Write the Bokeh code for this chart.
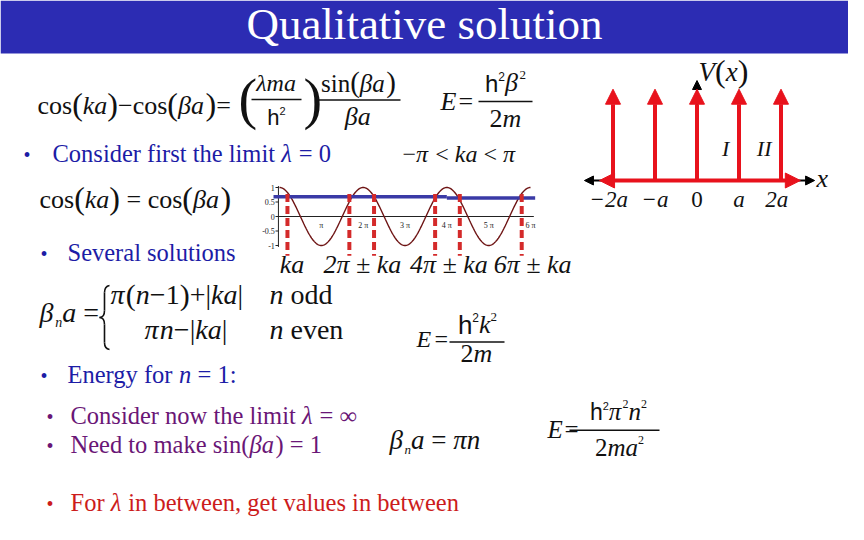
import numpy as np
from bokeh.plotting import figure
from bokeh.models import ColumnDataSource, Range1d, Arrow, NormalHead
from bokeh.embed import file_html
from bokeh.resources import INLINE

# ---------------- data ----------------
# inset: cos(beta a) plotted over 0 .. 6 pi (the curve is the cosine itself)
inset_beta_a = np.linspace(0.0, 6 * np.pi, 361)
inset_cos = np.cos(inset_beta_a)
ka_level_left = 0.68          # cos(ka) horizontal line, up to 4 pi
ka_level_right = 0.64         # cos(ka) horizontal line, after 4 pi
crossing_pi = [0.19, 1.67, 2.26, 3.72, 4.31, 5.79]   # intersections (units of pi)
inset_yticks = [1.0, 0.5, 0.0, -0.5, -1.0]
inset_ytick_labels = ["1", "0.5", "0", "-0.5", "-1"]
inset_xticks_pi = [1, 2, 3, 4, 5, 6]
inset_xtick_labels = ["π", "2 π", "3 π", "4 π", "5 π", "6 π"]
solution_labels = ["ka", "2π ± ka", "4π ± ka", "6π ± ka"]
solution_label_pi = [0.30, 1.98, 4.05, 6.05]

# Kronig-Penney potential: delta spikes at multiples of a
site_positions = [-2, -1, 0, 1, 2]
site_labels = ["−2a", "−a", "0", "a", "2a"]
site_label_pos = [-2.1, -1.0, 0.0, 1.0, 1.9]
region_labels = ["I", "II"]
region_positions = [0.68, 1.6]

# ---------------- styles ----------------
SERIF = "Liberation Serif"
SANS = "Liberation Sans"
BLACK = "#111111"
HEADER = "#2c2cb3"
BLUE = "#1c1ca6"
PURPLE = "#6a1676"
RED = "#cc1c1c"
ARROW_RED = "#e8121c"
MID = 0.34   # alphabetic baseline -> 'middle' anchor offset (in em)

REG = {' ': 250, '(': 333, ')': 333, '+': 564, ',': 250, '-': 333, '.': 250, ':': 278,
       '<': 564, '=': 564, '|': 200, '−': 564, '±': 564, 'π': 549, 'λ': 549, 'β': 549,
       '∞': 713, '•': 350,
       'A': 722, 'B': 667, 'C': 667, 'D': 722, 'E': 611, 'F': 556, 'G': 722, 'H': 722,
       'I': 333, 'N': 722, 'Q': 722, 'S': 556, 'V': 722,
       'a': 444, 'b': 500, 'c': 444, 'd': 500, 'e': 444, 'f': 333, 'g': 500, 'h': 500,
       'i': 278, 'j': 278, 'k': 500, 'l': 278, 'm': 778, 'n': 500, 'o': 500, 'p': 500,
       'q': 500, 'r': 333, 's': 389, 't': 278, 'u': 500, 'v': 500, 'w': 722, 'x': 500,
       'y': 500, 'z': 444}
for d in "0123456789":
    REG[d] = 500
IT = dict(REG)
IT.update({'a': 500, 'k': 444, 'm': 722, 'r': 389, 'v': 444, 'w': 667, 'x': 444,
           'y': 444, 'z': 389, 'E': 611, 'V': 611, 'π': 549, 'λ': 470, 'β': 560})
SANSW = {'h': 556, '2': 556}

TX = dict(x=[], y=[], text=[], size=[], style=[], font=[], color=[], align=[])


def tx(x, y, s, size, style="normal", font=SERIF, color=BLACK, align="left"):
    TX["x"].append(x)
    TX["y"].append(y - MID * size)
    TX["text"].append(s)
    TX["size"].append(f"{size}px")
    TX["style"].append(style)
    TX["font"].append(font)
    TX["color"].append(color)
    TX["align"].append(align)


def width(s, size, style, font):
    table = SANSW if font == SANS else (IT if style == "italic" else REG)
    return sum(table.get(c, 500) for c in s) / 1000.0 * size


def run(x, y, pieces, color=BLACK, align="left"):
    items = []
    for pc in pieces:
        s, size = pc[0], pc[1]
        style = pc[2] if len(pc) > 2 else "normal"
        font = pc[3] if len(pc) > 3 else SERIF
        dy = pc[4] if len(pc) > 4 else 0
        lead = (len(s) - len(s.lstrip(" "))) * 0.25 * size
        trail = (len(s) - len(s.rstrip(" "))) * 0.25 * size
        core = s.strip(" ")
        items.append((core, size, style, font, dy, lead, width(core, size, style, font),
                      trail))
    total = sum(it[5] + it[6] + it[7] for it in items)
    if align == "center":
        x -= total / 2.0
    for core, size, style, font, dy, lead, w, trail in items:
        x += lead
        tx(x, y + dy, core, size, style, font, color)
        x += w + trail
    return x


# ---------------- figure (coordinates = reference pixels, y down) ----------------
p = figure(width=848, height=524, x_range=Range1d(8, 856), y_range=Range1d(532, 8),
           output_backend="svg", toolbar_location=None, x_axis_type=None,
           y_axis_type=None, min_border=0)
p.outline_line_color = None
p.background_fill_color = "white"
p.border_fill_color = "white"
p.title.visible = False

# inset ranges: beta*a -> px, cos -> px
kx = 251.0 / (6 * np.pi)
ky = 29.0
p.extra_x_ranges["ix"] = Range1d((8 - 287) / kx, (856 - 287) / kx)
p.extra_y_ranges["iy"] = Range1d((224 - 532) / ky, (224 - 8) / ky)
# potential ranges: x in units of a, V in units of spike height
ka_px = 42.0
kv = 91.3
p.extra_x_ranges["px"] = Range1d((8 - 704.5) / ka_px, (856 - 704.5) / ka_px)
p.extra_y_ranges["py"] = Range1d((188 - 532) / kv, (188 - 8) / kv)

# header bar
p.quad(left=[8], right=[856], top=[8], bottom=[61], color=HEADER, line_color=None)
tx(432, 47, "Qualitative solution", 45, color="white", align="center")

# ---------- equation 1 ----------
run(45, 122, [("cos", 26), ("(", 32), ("ka", 26, "italic"), (")", 32), ("−", 26),
              ("cos", 26), ("(", 32), ("βa", 26, "italic"), (")", 32), ("=", 26)])
tx(246, 126, "(", 56)
tx(311, 126, ")", 56)
run(284, 99, [("λma", 24, "italic")], align="center")
run(284, 132, [("h", 22, "normal", SANS), ("2", 11, "normal", SANS, -10)], align="center")
run(366, 99, [("sin", 25), ("(", 29), ("βa", 25, "italic"), (")", 29)], align="center")
run(366, 133, [("βa", 26, "italic")], align="center")
tx(448, 118, "E", 26, "italic")
tx(466, 118, "=", 26)
run(513, 99, [("h", 24, "normal", SANS), ("2", 12, "normal", SANS, -11),
              ("β", 26, "italic"), ("2", 13, "normal", SERIF, -12)], align="center")
run(513, 135, [("2", 26), ("m", 26, "italic")], align="center")
bars = dict(x0=[259, 324, 486], x1=[309, 408, 540], y=[107, 107.5, 109])

# ---------- bullet: lambda = 0 ----------
tx(31, 169, "•", 20, color=BLUE)
run(60, 169, [("Consider first the limit ", 24.5), ("λ", 24.5, "italic"), (" = 0", 24.5)],
    color=BLUE)
run(410, 170, [("−", 24), ("π", 24, "italic"), (" < ", 24), ("ka", 24, "italic"),
               (" < ", 24), ("π", 24, "italic")])
run(47, 216, [("cos", 26), ("(", 32), ("ka", 26, "italic"), (")", 32), (" = ", 26),
              ("cos", 26), ("(", 32), ("βa", 26, "italic"), (")", 32)])
tx(48, 268, "•", 20, color=BLUE)
run(75, 268, [("Several solutions", 24.5)], color=BLUE)

# ---------- cases ----------
run(47, 330, [("β", 28, "italic"), ("n", 14, "italic", SERIF, 5), ("a", 28, "italic"),
              (" =", 28)])
run(118, 312, [("π", 28, "italic"), ("(", 30), ("n", 28, "italic"), ("−1", 28), (")", 30),
               ("+", 28), ("|", 28), ("ka", 28, "italic"), ("|", 28)])
run(277, 312, [("n", 28, "italic"), (" odd", 28)])
run(152, 347, [("π", 28, "italic"), ("n", 28, "italic"), ("−", 28), ("|", 28),
               ("ka", 28, "italic"), ("|", 28)])
run(277, 347, [("n", 28, "italic"), (" even", 28)])
tx(424, 355, "E", 24, "italic")
tx(442, 355, "=", 24)
run(485, 341, [("h", 26, "normal", SANS), ("2", 12, "normal", SANS, -12),
               ("k", 26, "italic"), ("2", 13, "normal", SERIF, -12)], align="center")
run(484, 370, [("2", 26), ("m", 26, "italic")], align="center")
bars["x0"] += [457, 577]
bars["x1"] += [512, 667]
bars["y"] += [349.5, 437.7]

tx(48, 390, "•", 20, color=BLUE)
run(75, 390, [("Energy for ", 24.5), ("n", 24.5, "italic"), (" = 1:", 24.5)], color=BLUE)

# ---------- lambda = infinity ----------
tx(54, 431, "•", 20, color=PURPLE)
run(78, 431, [("Consider now the limit ", 24.5), ("λ", 24.5, "italic"), (" = ∞", 24.5)],
    color=PURPLE)
tx(54, 460, "•", 20, color=PURPLE)
run(78, 460, [("Need to make sin(", 24.5), ("βa", 24.5, "italic"), (") = 1", 24.5)],
    color=PURPLE)
run(397, 457, [("β", 27, "italic"), ("n", 13, "italic", SERIF, 4), ("a", 27, "italic"),
               (" = ", 27), ("πn", 27, "italic")])
tx(555, 445, "E", 25, "italic")
tx(572, 445, "=", 25)
run(626, 427, [("h", 23, "normal", SANS), ("2", 11, "normal", SANS, -10),
               ("π", 25, "italic"), ("2", 12, "normal", SERIF, -11),
               ("n", 25, "italic"), ("2", 12, "normal", SERIF, -11)], align="center")
run(627, 463, [("2", 25), ("ma", 25, "italic"), ("2", 12, "normal", SERIF, -11)],
    align="center")

tx(54, 518, "•", 20, color=RED)
run(78, 518, [("For ", 24.5), ("λ", 24.5, "italic"),
              (" in between, get values in between", 24.5)], color=RED)

# fraction bars
p.segment(x0="x0", y0="y", x1="x1", y1="y", source=ColumnDataSource(bars),
          line_color=BLACK, line_width=1.4)

# curly brace of the cases (bezier pieces)
p.bezier(x0=[117, 112, 112, 112], y0=[293, 318, 332, 350],
         x1=[112, 107, 107, 117], y1=[300, 325, 325, 357],
         cx0=[114, 112, 112, 112], cy0=[293.5, 323, 327, 355],
         cx1=[112, 110, 110, 114], cy1=[296, 325, 325, 356.5],
         line_color=BLACK, line_width=1.6)
p.segment(x0=[112, 112], y0=[300, 332], x1=[112, 112], y1=[318, 350],
          line_color=BLACK, line_width=1.6)

# all main texts
p.text(x="x", y="y", text="text", source=ColumnDataSource(TX), text_font="font",
       text_font_size="size", text_font_style="style", text_color="color",
       text_align="align", text_baseline="middle")

# ---------------- inset plot ----------------
IR = dict(x_range_name="ix", y_range_name="iy")
p.segment(x0=[-0.08], y0=[0], x1=[6 * np.pi + 0.25], y1=[0], line_color="#222222",
          line_width=1, **IR)
p.segment(x0=[-0.08], y0=[-1.05], x1=[-0.08], y1=[1.05], line_color="#222222",
          line_width=1, **IR)
p.segment(x0=[-0.3] * len(inset_yticks), y0=inset_yticks, x1=[-0.08] * len(inset_yticks),
          y1=inset_yticks, line_color="#222222", line_width=1, **IR)
p.line(inset_beta_a, inset_cos, line_color="#6e1414", line_width=1.4, **IR)
p.multi_line(xs=[[-0.45, 4 * np.pi], [4 * np.pi, 6 * np.pi + 0.35]],
             ys=[[ka_level_left, ka_level_left], [ka_level_right, ka_level_right]],
             line_color="#3a3aa6", line_width=3.5, **IR)
xc = [c * np.pi for c in crossing_pi]
p.segment(x0=xc, y0=[0.78] * len(xc), x1=xc, y1=[-1.35] * len(xc), line_color="#d42a2a",
          line_width=4, line_dash="8 4", **IR)
p.text(x=[-0.35] * len(inset_yticks), y=inset_yticks, text=inset_ytick_labels,
       text_font=SERIF, text_font_size="8px", text_color="#222222", text_align="right",
       text_baseline="middle", **IR)
p.text(x=[t * np.pi for t in inset_xticks_pi], y=[-0.3] * len(inset_xticks_pi),
       text=inset_xtick_labels, text_font=SERIF, text_font_size="8px",
       text_color="#222222", text_align="center", text_baseline="middle", **IR)
p.text(x=[t * np.pi for t in solution_label_pi],
       y=[(224 - 281 + MID * 26) / ky] * len(solution_labels),
       text=solution_labels, text_font=SERIF, text_font_size="26px",
       text_font_style="italic", text_color=BLACK, text_align="center",
       text_baseline="middle", **IR)

# ---------------- potential diagram ----------------
PR = dict(x_range_name="px", y_range_name="py")
p.add_layout(Arrow(start=NormalHead(size=9, fill_color="black", line_color="black"),
                   end=NormalHead(size=9, fill_color="black", line_color="black"),
                   x_start=-2.68, y_start=0, x_end=2.80, y_end=0, line_width=2,
                   line_color="black", **PR))
p.add_layout(Arrow(end=NormalHead(size=9, fill_color="black", line_color="black"),
                   x_start=0, y_start=0, x_end=0, y_end=1.095, line_width=2,
                   line_color="black", **PR))
p.add_layout(Arrow(start=NormalHead(size=15, fill_color=ARROW_RED, line_color=ARROW_RED),
                   end=NormalHead(size=15, fill_color=ARROW_RED, line_color=ARROW_RED),
                   x_start=-2.32, y_start=0, x_end=2.46, y_end=0, line_width=4,
                   line_color=ARROW_RED, **PR))
spikes = ColumnDataSource(dict(x0=site_positions, y0=[0] * len(site_positions),
                               x1=site_positions, y1=[1] * len(site_positions)))
p.add_layout(Arrow(end=NormalHead(size=15, fill_color=ARROW_RED, line_color=ARROW_RED),
                   x_start="x0", y_start="y0", x_end="x1", y_end="y1", source=spikes,
                   line_width=4, line_color=ARROW_RED, **PR))
site_styles = ["normal" if s == "0" else "italic" for s in site_labels]
p.text(x=site_label_pos, y=[(188 - 215 + MID * 23) / kv] * len(site_labels),
       text=site_labels, text_font=SERIF, text_font_size="23px",
       text_font_style=site_styles, text_color=BLACK, text_align="center",
       text_baseline="middle", **PR)
p.text(x=region_positions, y=[(188 - 163 + MID * 22) / kv] * len(region_labels),
       text=region_labels, text_font=SERIF, text_font_size="22px",
       text_font_style="italic", text_color=BLACK, text_align="center",
       text_baseline="middle", **PR)
VX = dict(x=[], y=[], text=[], size=[], style=[], font=[], color=[], align=[])
TX = VX
run(706, 89, [("V", 27, "italic"), ("(", 32), ("x", 27, "italic"), (")", 32)])
tx(824, 195, "x", 26, "italic")
p.text(x="x", y="y", text="text", source=ColumnDataSource(VX), text_font="font",
       text_font_size="size", text_font_style="style", text_color="color",
       text_align="align", text_baseline="middle")

open("out.html", "w").write(file_html(p, INLINE))
